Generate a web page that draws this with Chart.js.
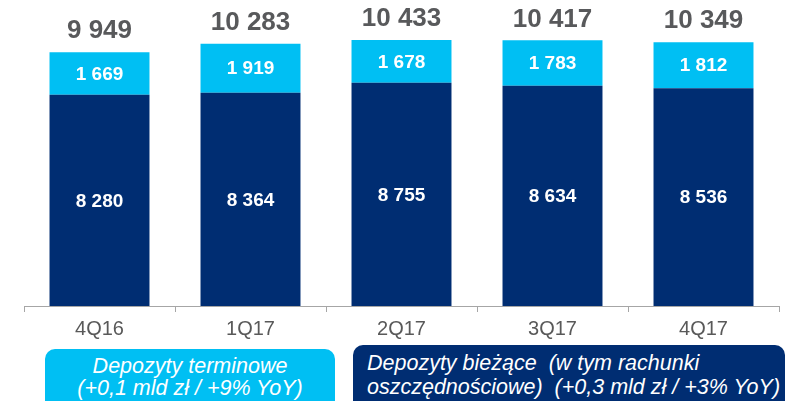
<!DOCTYPE html>
<html>
<head>
<meta charset="utf-8">
<script src="https://cdn.jsdelivr.net/npm/chart.js@4"></script>
<style>
  body { margin: 0; background: #fff; }
  #wrap { position: relative; width: 792px; height: 401px; overflow: hidden; }
  .box {
    position: absolute;
    color: #fff;
    font-family: "Liberation Sans", Arial, sans-serif;
    font-style: italic;
    font-size: 21.5px;
    line-height: 22px;
    border-radius: 10px;
    white-space: pre;
  }
  #term { left: 45px; top: 349px; width: 290px; height: 70px; background: #00BFF3; text-align: center; padding-top: 6px; box-sizing: border-box; }
  #curr { left: 353px; top: 345px; width: 432px; height: 70px; background: #002D72; padding: 6px 0 0 14px; box-sizing: border-box; line-height: 24px; }
</style>
</head>
<body>
<div id="wrap">
  <canvas id="myChart" width="792" height="401"></canvas>
  <div class="box" id="term">Depozyty terminowe
(+0,1 mld zł / +9% YoY)</div>
  <div class="box" id="curr">Depozyty bieżące  (w tym rachunki
oszczędnościowe)  (+0,3 mld zł / +3% YoY)</div>
</div>
<script>
// data
const quarters = ["4Q16", "1Q17", "2Q17", "3Q17", "4Q17"];
const currentDeposits = [8280, 8364, 8755, 8634, 8536]; // bieżące
const termDeposits = [1669, 1919, 1678, 1783, 1812]; // terminowe
const totals = [9949, 10283, 10433, 10417, 10349];

const fontFam = "'Liberation Sans', Arial, sans-serif";
const fmt = (v) => String(v).replace(/\B(?=(\d{3})+(?!\d))/g, " ");

// labels inside segments + totals on top
const labelsPlugin = {
  id: "labels",
  afterDatasetsDraw(chart) {
    const ctx = chart.ctx;
    ctx.save();
    ctx.textAlign = "center";
    ctx.textBaseline = "middle";
    chart.data.datasets.forEach((ds, i) => {
      chart.getDatasetMeta(i).data.forEach((bar, j) => {
        const mid = (bar.y + bar.base) / 2;
        ctx.fillStyle = "#fff";
        ctx.font = "bold 19px " + fontFam;
        ctx.fillText(fmt(ds.data[j]), bar.x, mid + 1);
      });
    });
    const top = chart.getDatasetMeta(1).data;
    ctx.fillStyle = "#58595B";
    ctx.font = "bold 26px " + fontFam;
    top.forEach((bar, j) => {
      ctx.fillText(fmt(totals[j]), bar.x, bar.y - 21);
    });
    ctx.restore();
  },
};

const ctx = document.getElementById("myChart").getContext("2d");
const myChart = new Chart(ctx, {
  type: "bar",
  data: {
    labels: quarters,
    datasets: [
      { label: "Depozyty bieżące", data: currentDeposits, backgroundColor: "#002D72" },
      { label: "Depozyty terminowe", data: termDeposits, backgroundColor: "#00BFF3" },
    ],
  },
  options: {
    responsive: false,
    animation: false,
    categoryPercentage: 1,
    barPercentage: 0.662,
    layout: { padding: { left: 24, right: 13, top: 0, bottom: 0 } },
    plugins: { legend: { display: false }, tooltip: { enabled: false } },
    scales: {
      x: {
        stacked: true,
        afterFit: (scale) => { scale.height = 95; },
        border: { color: "#A6A6A6", width: 1 },
        grid: { offset: true, drawOnChartArea: false, tickLength: 6, color: "#A6A6A6" },
        ticks: { color: "#595959", padding: 5, font: { family: fontFam, size: 20 } },
      },
      y: {
        stacked: true,
        display: false,
        min: 0,
        max: 12000,
      },
    },
  },
  plugins: [labelsPlugin],
});
</script>
</body>
</html>
